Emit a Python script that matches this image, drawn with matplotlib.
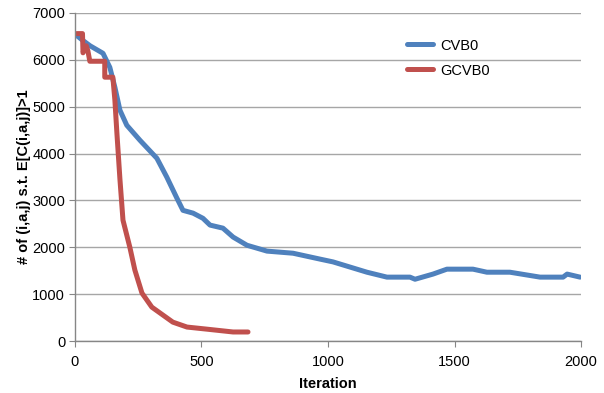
import matplotlib
matplotlib.use("Agg")
from matplotlib import pyplot as plt

plt.rcParams['font.family'] = ['Liberation Sans', 'DejaVu Sans']

# CVB0 curve
cvb0_x = [0, 30, 60, 111, 138, 158, 178, 205, 257, 324, 363, 403, 427, 467, 506, 534,
          585, 625, 680, 759, 862, 968, 1020, 1154, 1233, 1324, 1344, 1415, 1470,
          1573, 1628, 1719, 1838, 1929, 1945, 1996]
cvb0_y = [6550, 6420, 6300, 6140, 5840, 5415, 4925, 4605, 4285, 3900, 3500, 3050, 2790,
          2730, 2620, 2475, 2410, 2220, 2045, 1920, 1875, 1750, 1690, 1470, 1365,
          1365, 1320, 1430, 1535, 1535, 1470, 1470, 1365, 1365, 1430, 1365]

# GCVB0 curve
gcvb0_x = [7, 30, 32, 45, 51, 59, 118, 118, 150, 158, 166, 178, 190, 217, 237, 265,
           304, 387, 443, 522, 625, 684]
gcvb0_y = [6560, 6560, 6150, 6300, 6200, 5970, 5970, 5630, 5630, 5140, 4435, 3450,
           2580, 2005, 1515, 1025, 725, 405, 300, 255, 195, 195]

xticks = [0, 500, 1000, 1500, 2000]
yticks = [0, 1000, 2000, 3000, 4000, 5000, 6000, 7000]

fs = 10.5
fig = plt.figure(figsize=(6.04, 3.93), dpi=100)
ax = fig.add_axes([0.124, 0.132, 0.838, 0.835])

ax.plot(cvb0_x, cvb0_y, color='#4F81BD', lw=3.6, label='CVB0', solid_capstyle='round')
ax.plot(gcvb0_x, gcvb0_y, color='#C0504D', lw=3.6, label='GCVB0', solid_capstyle='round')

ax.set_xlim(0, 2000)
ax.set_ylim(0, 7000)
ax.set_xticks(xticks)
ax.set_yticks(yticks)
ax.yaxis.grid(True, color='#A6A6A6', lw=1)
ax.set_axisbelow(True)
for s in ['top', 'right']:
    ax.spines[s].set_visible(False)
for s in ['left', 'bottom']:
    ax.spines[s].set_color('#868686')
    ax.spines[s].set_linewidth(1)
ax.tick_params(axis='both', colors='#868686', labelcolor='black', labelsize=fs,
               direction='out', length=4)
ax.tick_params(axis='x', pad=6)
ax.tick_params(axis='y', pad=3)

ax.set_xlabel('Iteration', fontsize=fs, fontweight='bold', labelpad=5.5)
ax.set_ylabel('# of (i,a,j) s.t. E[C(i,a,j)]>1', fontsize=fs, fontweight='bold', labelpad=1)

ax.legend(loc='upper left', bbox_to_anchor=(0.656, 0.922), frameon=False, fontsize=fs,
          handlelength=1.8, handletextpad=0.5, labelspacing=0.75, borderpad=0,
          borderaxespad=0)

fig.savefig('out.png', dpi=100)
